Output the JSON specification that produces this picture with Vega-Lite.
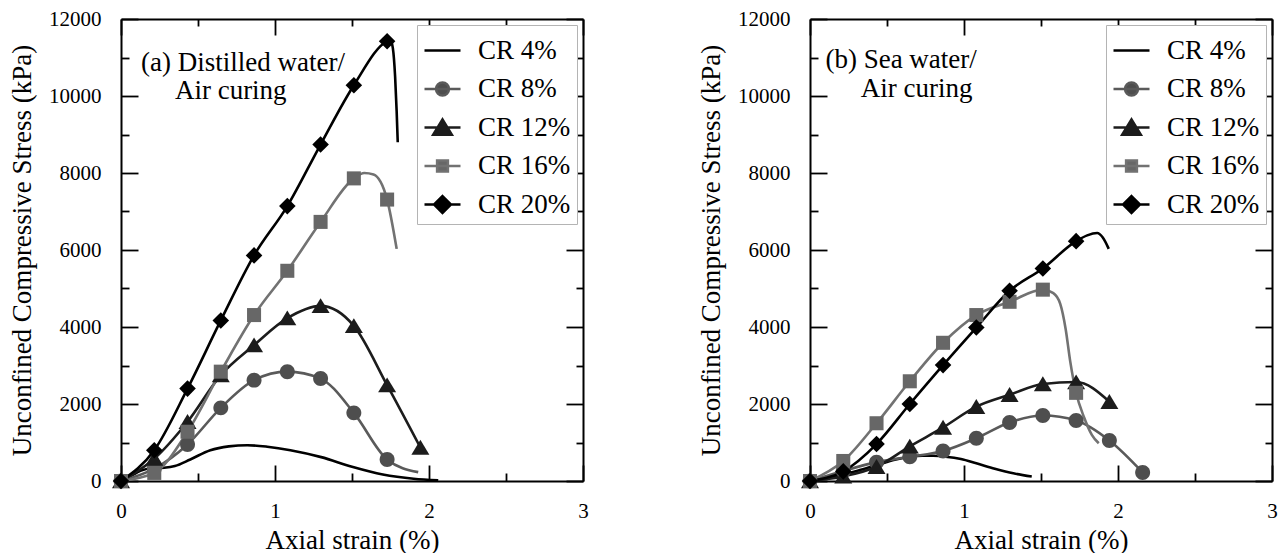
{
  "$schema": "https://vega.github.io/schema/vega-lite/v6.json",
  "padding": {"left": 8, "top": 8, "right": 2, "bottom": 2},
  "background": "white",
  "config": {
    "view": {"stroke": null},
    "font": "Liberation Serif",
    "axis": {
      "domainColor": "black", "domainWidth": 2, "tickColor": "black", "tickWidth": 1.8,
      "labelFont": "Liberation Serif", "labelFontSize": 21, "labelColor": "black", "labelFlush": false, "labelOverlap": false,
      "titleFont": "Liberation Serif", "titleFontSize": 27, "titleFontWeight": "normal", "titleColor": "black", "grid": false
    },
    "legend": {"title": null, "orient": "top-right", "offset": 6, "padding": 6, "rowPadding": 5.5, "symbolSize": 1296, "symbolStrokeWidth": 2.5,
               "labelFont": "Liberation Serif", "labelFontSize": 27, "labelColor": "black", "labelOffset": 16, "strokeColor": "#b4b4b4", "fillColor": "white", "symbolOpacity": 1}
  },
  "data": {"values": [
    {"p":"a","s":"CR 4%","x":0,"y":0,"m":0},{"p":"a","s":"CR 4%","x":0.06,"y":120,"m":0},{"p":"a","s":"CR 4%","x":0.13,"y":270,"m":0},{"p":"a","s":"CR 4%","x":0.2,"y":330,"m":0},{"p":"a","s":"CR 4%","x":0.28,"y":345,"m":0},{"p":"a","s":"CR 4%","x":0.35,"y":390,"m":0},{"p":"a","s":"CR 4%","x":0.45,"y":560,"m":0},{"p":"a","s":"CR 4%","x":0.58,"y":800,"m":0},{"p":"a","s":"CR 4%","x":0.7,"y":900,"m":0},{"p":"a","s":"CR 4%","x":0.82,"y":930,"m":0},{"p":"a","s":"CR 4%","x":0.95,"y":890,"m":0},{"p":"a","s":"CR 4%","x":1.1,"y":800,"m":0},{"p":"a","s":"CR 4%","x":1.3,"y":620,"m":0},{"p":"a","s":"CR 4%","x":1.5,"y":370,"m":0},{"p":"a","s":"CR 4%","x":1.7,"y":170,"m":0},{"p":"a","s":"CR 4%","x":1.9,"y":60,"m":0},{"p":"a","s":"CR 4%","x":2.06,"y":20,"m":0},
    {"p":"a","s":"CR 8%","x":0,"y":0,"m":1},{"p":"a","s":"CR 8%","x":0.216,"y":320,"m":1},{"p":"a","s":"CR 8%","x":0.432,"y":950,"m":1},{"p":"a","s":"CR 8%","x":0.648,"y":1900,"m":1},{"p":"a","s":"CR 8%","x":0.864,"y":2620,"m":1},{"p":"a","s":"CR 8%","x":1.08,"y":2840,"m":1},{"p":"a","s":"CR 8%","x":1.296,"y":2660,"m":1},{"p":"a","s":"CR 8%","x":1.512,"y":1770,"m":1},{"p":"a","s":"CR 8%","x":1.728,"y":560,"m":1},{"p":"a","s":"CR 8%","x":1.93,"y":230,"m":0},
    {"p":"a","s":"CR 12%","x":0,"y":0,"m":1},{"p":"a","s":"CR 12%","x":0.216,"y":580,"m":1},{"p":"a","s":"CR 12%","x":0.432,"y":1540,"m":1},{"p":"a","s":"CR 12%","x":0.648,"y":2750,"m":1},{"p":"a","s":"CR 12%","x":0.864,"y":3530,"m":1},{"p":"a","s":"CR 12%","x":1.08,"y":4230,"m":1},{"p":"a","s":"CR 12%","x":1.296,"y":4550,"m":1},{"p":"a","s":"CR 12%","x":1.512,"y":4030,"m":1},{"p":"a","s":"CR 12%","x":1.728,"y":2490,"m":1},{"p":"a","s":"CR 12%","x":1.944,"y":870,"m":1},
    {"p":"a","s":"CR 16%","x":0,"y":0,"m":1},{"p":"a","s":"CR 16%","x":0.216,"y":210,"m":1},{"p":"a","s":"CR 16%","x":0.432,"y":1280,"m":1},{"p":"a","s":"CR 16%","x":0.648,"y":2840,"m":1},{"p":"a","s":"CR 16%","x":0.864,"y":4310,"m":1},{"p":"a","s":"CR 16%","x":1.08,"y":5460,"m":1},{"p":"a","s":"CR 16%","x":1.296,"y":6730,"m":1},{"p":"a","s":"CR 16%","x":1.512,"y":7860,"m":1},{"p":"a","s":"CR 16%","x":1.58,"y":8000,"m":0},{"p":"a","s":"CR 16%","x":1.64,"y":7960,"m":0},{"p":"a","s":"CR 16%","x":1.728,"y":7310,"m":1},{"p":"a","s":"CR 16%","x":1.79,"y":6030,"m":0},
    {"p":"a","s":"CR 20%","x":0,"y":0,"m":1},{"p":"a","s":"CR 20%","x":0.216,"y":800,"m":1},{"p":"a","s":"CR 20%","x":0.432,"y":2400,"m":1},{"p":"a","s":"CR 20%","x":0.648,"y":4170,"m":1},{"p":"a","s":"CR 20%","x":0.864,"y":5860,"m":1},{"p":"a","s":"CR 20%","x":1.08,"y":7140,"m":1},{"p":"a","s":"CR 20%","x":1.296,"y":8740,"m":1},{"p":"a","s":"CR 20%","x":1.512,"y":10280,"m":1},{"p":"a","s":"CR 20%","x":1.728,"y":11420,"m":1},{"p":"a","s":"CR 20%","x":1.75,"y":11450,"m":0},{"p":"a","s":"CR 20%","x":1.765,"y":11250,"m":0},{"p":"a","s":"CR 20%","x":1.78,"y":10500,"m":0},{"p":"a","s":"CR 20%","x":1.79,"y":9600,"m":0},{"p":"a","s":"CR 20%","x":1.797,"y":8800,"m":0},
    {"p":"b","s":"CR 4%","x":0,"y":0,"m":0},{"p":"b","s":"CR 4%","x":0.1,"y":70,"m":0},{"p":"b","s":"CR 4%","x":0.22,"y":170,"m":0},{"p":"b","s":"CR 4%","x":0.33,"y":290,"m":0},{"p":"b","s":"CR 4%","x":0.44,"y":420,"m":0},{"p":"b","s":"CR 4%","x":0.55,"y":550,"m":0},{"p":"b","s":"CR 4%","x":0.65,"y":630,"m":0},{"p":"b","s":"CR 4%","x":0.73,"y":660,"m":0},{"p":"b","s":"CR 4%","x":0.8,"y":655,"m":0},{"p":"b","s":"CR 4%","x":0.88,"y":630,"m":0},{"p":"b","s":"CR 4%","x":0.98,"y":570,"m":0},{"p":"b","s":"CR 4%","x":1.08,"y":460,"m":0},{"p":"b","s":"CR 4%","x":1.2,"y":320,"m":0},{"p":"b","s":"CR 4%","x":1.32,"y":200,"m":0},{"p":"b","s":"CR 4%","x":1.44,"y":115,"m":0},
    {"p":"b","s":"CR 8%","x":0,"y":0,"m":1},{"p":"b","s":"CR 8%","x":0.216,"y":260,"m":1},{"p":"b","s":"CR 8%","x":0.432,"y":490,"m":1},{"p":"b","s":"CR 8%","x":0.648,"y":630,"m":1},{"p":"b","s":"CR 8%","x":0.864,"y":780,"m":1},{"p":"b","s":"CR 8%","x":1.08,"y":1110,"m":1},{"p":"b","s":"CR 8%","x":1.296,"y":1520,"m":1},{"p":"b","s":"CR 8%","x":1.512,"y":1700,"m":1},{"p":"b","s":"CR 8%","x":1.728,"y":1570,"m":1},{"p":"b","s":"CR 8%","x":1.944,"y":1050,"m":1},{"p":"b","s":"CR 8%","x":2.16,"y":220,"m":1},
    {"p":"b","s":"CR 12%","x":0,"y":0,"m":1},{"p":"b","s":"CR 12%","x":0.216,"y":120,"m":1},{"p":"b","s":"CR 12%","x":0.432,"y":370,"m":1},{"p":"b","s":"CR 12%","x":0.648,"y":900,"m":1},{"p":"b","s":"CR 12%","x":0.864,"y":1390,"m":1},{"p":"b","s":"CR 12%","x":1.08,"y":1930,"m":1},{"p":"b","s":"CR 12%","x":1.296,"y":2240,"m":1},{"p":"b","s":"CR 12%","x":1.512,"y":2520,"m":1},{"p":"b","s":"CR 12%","x":1.728,"y":2570,"m":1},{"p":"b","s":"CR 12%","x":1.944,"y":2060,"m":1},
    {"p":"b","s":"CR 16%","x":0,"y":0,"m":1},{"p":"b","s":"CR 16%","x":0.216,"y":520,"m":1},{"p":"b","s":"CR 16%","x":0.432,"y":1500,"m":1},{"p":"b","s":"CR 16%","x":0.648,"y":2590,"m":1},{"p":"b","s":"CR 16%","x":0.864,"y":3590,"m":1},{"p":"b","s":"CR 16%","x":1.08,"y":4310,"m":1},{"p":"b","s":"CR 16%","x":1.296,"y":4655,"m":1},{"p":"b","s":"CR 16%","x":1.512,"y":4970,"m":1},{"p":"b","s":"CR 16%","x":1.58,"y":4880,"m":0},{"p":"b","s":"CR 16%","x":1.625,"y":4600,"m":0},{"p":"b","s":"CR 16%","x":1.66,"y":3950,"m":0},{"p":"b","s":"CR 16%","x":1.69,"y":3100,"m":0},{"p":"b","s":"CR 16%","x":1.728,"y":2290,"m":1},{"p":"b","s":"CR 16%","x":1.78,"y":1650,"m":0},{"p":"b","s":"CR 16%","x":1.83,"y":1200,"m":0},{"p":"b","s":"CR 16%","x":1.875,"y":980,"m":0},
    {"p":"b","s":"CR 20%","x":0,"y":0,"m":1},{"p":"b","s":"CR 20%","x":0.216,"y":250,"m":1},{"p":"b","s":"CR 20%","x":0.432,"y":960,"m":1},{"p":"b","s":"CR 20%","x":0.648,"y":2000,"m":1},{"p":"b","s":"CR 20%","x":0.864,"y":3010,"m":1},{"p":"b","s":"CR 20%","x":1.08,"y":3985,"m":1},{"p":"b","s":"CR 20%","x":1.296,"y":4940,"m":1},{"p":"b","s":"CR 20%","x":1.512,"y":5520,"m":1},{"p":"b","s":"CR 20%","x":1.728,"y":6230,"m":1},{"p":"b","s":"CR 20%","x":1.8,"y":6380,"m":0},{"p":"b","s":"CR 20%","x":1.865,"y":6440,"m":0},{"p":"b","s":"CR 20%","x":1.9,"y":6330,"m":0},{"p":"b","s":"CR 20%","x":1.94,"y":6030,"m":0}
  ]},
  "spacing": 108,
  "resolve": {"scale": {"color": "independent", "fill": "independent", "stroke": "independent", "shape": "independent"}},
  "hconcat": [
    {
      "width": 462, "height": 462,
      "transform": [{"filter": "datum.p == 'a'"}],
      "resolve": {"axis": {"x": "independent", "y": "independent"}},
      "layer": [
        {
          "mark": {"type": "line", "interpolate": "monotone", "strokeWidth": 2.6},
          "encoding": {
            "x": {"field": "x", "type": "quantitative", "scale": {"domain": [0, 3], "nice": false, "zero": false},
                  "axis": {"orient": "bottom", "title": "Axial strain (%)", "values": [0, 1, 2, 3], "format": "d", "tickSize": -16, "labelPadding": 35, "titlePadding": 6}},
            "y": {"field": "y", "type": "quantitative", "scale": {"domain": [0, 12000], "nice": false},
                  "axis": {"orient": "left", "title": "Unconfined Compressive Stress (kPa)", "values": [0, 2000, 4000, 6000, 8000, 10000, 12000], "format": "d", "tickSize": -17, "labelPadding": 37, "titlePadding": 12}},
            "color": {"field": "s", "type": "nominal", "scale": {"domain": ["CR 20%", "CR 16%", "CR 12%", "CR 8%", "CR 4%"], "range": ["#000000", "#727272", "#1c1c1c", "#5a5a5a", "#000000"]}, "legend": null}
          }
        },
        {
          "transform": [{"filter": "datum.m == 1 && datum.s == 'CR 8%'"}],
          "mark": {"type": "point", "filled": true, "size": 324, "opacity": 1, "fill": "#4e4e4e", "shape": "M0.83,0A0.83,0.83 0 1,1 -0.83,0A0.83,0.83 0 1,1 0.83,0Z"},
          "encoding": {
            "x": {"field": "x", "type": "quantitative", "axis": {"orient": "bottom", "title": null, "labels": false, "domain": false, "values": [0.5, 1.5, 2.5], "tickSize": -8}},
            "y": {"field": "y", "type": "quantitative", "axis": {"orient": "left", "title": null, "labels": false, "domain": false, "values": [1000, 3000, 5000, 7000, 9000, 11000], "tickSize": -8}}
          }
        },
        {
          "transform": [{"filter": "datum.m == 1 && datum.s == 'CR 12%'"}],
          "mark": {"type": "point", "filled": true, "size": 324, "opacity": 1, "fill": "#1c1c1c", "shape": "M0,-0.85L1,0.8L-1,0.8Z"},
          "encoding": {
            "x": {"field": "x", "type": "quantitative", "axis": {"orient": "top", "title": null, "labels": false, "values": [0, 1, 2, 3], "tickSize": -16}},
            "y": {"field": "y", "type": "quantitative", "axis": {"orient": "right", "title": null, "labels": false, "values": [0, 2000, 4000, 6000, 8000, 10000, 12000], "tickSize": -17}}
          }
        },
        {
          "transform": [{"filter": "datum.m == 1 && datum.s == 'CR 16%'"}],
          "mark": {"type": "point", "filled": true, "size": 324, "opacity": 1, "fill": "#676767", "shape": "M-0.78,-0.78H0.78V0.78H-0.78Z"},
          "encoding": {
            "x": {"field": "x", "type": "quantitative", "axis": {"orient": "top", "title": null, "labels": false, "domain": false, "values": [0.5, 1.5, 2.5], "tickSize": -7}},
            "y": {"field": "y", "type": "quantitative", "axis": {"orient": "right", "title": null, "labels": false, "domain": false, "values": [1000, 3000, 5000, 7000, 9000, 11000], "tickSize": -7}}
          }
        },
        {
          "transform": [{"filter": "datum.m == 1 && datum.s == 'CR 20%'"}],
          "mark": {"type": "point", "filled": true, "size": 324, "opacity": 1, "fill": "#000000", "shape": "M0,-0.92L0.92,0L0,0.92L-0.92,0Z"},
          "encoding": {
            "x": {"field": "x", "type": "quantitative", "axis": null},
            "y": {"field": "y", "type": "quantitative", "axis": null}
          }
        },
        {
          "transform": [{"filter": "datum.m == 9"}],
          "mark": {"type": "point", "filled": true, "opacity": 1, "strokeWidth": 2.5},
          "encoding": {
            "x": {"field": "x", "type": "quantitative", "axis": null},
            "y": {"field": "y", "type": "quantitative", "axis": null},
            "fill": {"field": "s", "type": "nominal", "scale": {"domain": ["CR 4%", "CR 8%", "CR 12%", "CR 16%", "CR 20%"], "range": ["#000000", "#4e4e4e", "#1c1c1c", "#676767", "#000000"]}, "legend": {}},
            "stroke": {"field": "s", "type": "nominal", "scale": {"domain": ["CR 4%", "CR 8%", "CR 12%", "CR 16%", "CR 20%"], "range": ["#000000", "#5a5a5a", "#1c1c1c", "#727272", "#000000"]}, "legend": {}},
            "shape": {"field": "s", "type": "nominal", "scale": {"domain": ["CR 4%", "CR 8%", "CR 12%", "CR 16%", "CR 20%"], "range": ["M-1,0H1", "M-1,0H1M0.36,0A0.36,0.36 0 1,1 -0.36,0A0.36,0.36 0 1,1 0.36,0Z", "M-1,0H1M0,-0.45L0.52,0.4L-0.52,0.4Z", "M-1,0H1M-0.3,-0.3H0.3V0.3H-0.3Z", "M-1,0H1M0,-0.47L0.47,0L0,0.47L-0.47,0Z"]}, "legend": {}}
          }
        },
        {
          "data": {"values": [{"x": 0.13, "y": 10650, "t": "(a) Distilled water/"}, {"x": 0.35, "y": 9930, "t": "Air curing"}]},
          "mark": {"type": "text", "align": "left", "baseline": "alphabetic", "font": "Liberation Serif", "fontSize": 27, "color": "black"},
          "encoding": {
            "x": {"field": "x", "type": "quantitative", "axis": null},
            "y": {"field": "y", "type": "quantitative", "axis": null},
            "text": {"field": "t"}
          }
        }
      ]
    },
    {
      "width": 462, "height": 462,
      "transform": [{"filter": "datum.p == 'b'"}],
      "resolve": {"axis": {"x": "independent", "y": "independent"}},
      "layer": [
        {
          "mark": {"type": "line", "interpolate": "monotone", "strokeWidth": 2.6},
          "encoding": {
            "x": {"field": "x", "type": "quantitative", "scale": {"domain": [0, 3], "nice": false, "zero": false},
                  "axis": {"orient": "bottom", "title": "Axial strain (%)", "values": [0, 1, 2, 3], "format": "d", "tickSize": -16, "labelPadding": 35, "titlePadding": 6}},
            "y": {"field": "y", "type": "quantitative", "scale": {"domain": [0, 12000], "nice": false},
                  "axis": {"orient": "left", "title": "Unconfined Compressive Stress (kPa)", "values": [0, 2000, 4000, 6000, 8000, 10000, 12000], "format": "d", "tickSize": -17, "labelPadding": 37, "titlePadding": 12}},
            "color": {"field": "s", "type": "nominal", "scale": {"domain": ["CR 20%", "CR 16%", "CR 12%", "CR 8%", "CR 4%"], "range": ["#000000", "#727272", "#1c1c1c", "#5a5a5a", "#000000"]}, "legend": null}
          }
        },
        {
          "transform": [{"filter": "datum.m == 1 && datum.s == 'CR 8%'"}],
          "mark": {"type": "point", "filled": true, "size": 324, "opacity": 1, "fill": "#4e4e4e", "shape": "M0.83,0A0.83,0.83 0 1,1 -0.83,0A0.83,0.83 0 1,1 0.83,0Z"},
          "encoding": {
            "x": {"field": "x", "type": "quantitative", "axis": {"orient": "bottom", "title": null, "labels": false, "domain": false, "values": [0.5, 1.5, 2.5], "tickSize": -8}},
            "y": {"field": "y", "type": "quantitative", "axis": {"orient": "left", "title": null, "labels": false, "domain": false, "values": [1000, 3000, 5000, 7000, 9000, 11000], "tickSize": -8}}
          }
        },
        {
          "transform": [{"filter": "datum.m == 1 && datum.s == 'CR 12%'"}],
          "mark": {"type": "point", "filled": true, "size": 324, "opacity": 1, "fill": "#1c1c1c", "shape": "M0,-0.85L1,0.8L-1,0.8Z"},
          "encoding": {
            "x": {"field": "x", "type": "quantitative", "axis": {"orient": "top", "title": null, "labels": false, "values": [0, 1, 2, 3], "tickSize": -16}},
            "y": {"field": "y", "type": "quantitative", "axis": {"orient": "right", "title": null, "labels": false, "values": [0, 2000, 4000, 6000, 8000, 10000, 12000], "tickSize": -17}}
          }
        },
        {
          "transform": [{"filter": "datum.m == 1 && datum.s == 'CR 16%'"}],
          "mark": {"type": "point", "filled": true, "size": 324, "opacity": 1, "fill": "#676767", "shape": "M-0.78,-0.78H0.78V0.78H-0.78Z"},
          "encoding": {
            "x": {"field": "x", "type": "quantitative", "axis": {"orient": "top", "title": null, "labels": false, "domain": false, "values": [0.5, 1.5, 2.5], "tickSize": -7}},
            "y": {"field": "y", "type": "quantitative", "axis": {"orient": "right", "title": null, "labels": false, "domain": false, "values": [1000, 3000, 5000, 7000, 9000, 11000], "tickSize": -7}}
          }
        },
        {
          "transform": [{"filter": "datum.m == 1 && datum.s == 'CR 20%'"}],
          "mark": {"type": "point", "filled": true, "size": 324, "opacity": 1, "fill": "#000000", "shape": "M0,-0.92L0.92,0L0,0.92L-0.92,0Z"},
          "encoding": {
            "x": {"field": "x", "type": "quantitative", "axis": null},
            "y": {"field": "y", "type": "quantitative", "axis": null}
          }
        },
        {
          "transform": [{"filter": "datum.m == 9"}],
          "mark": {"type": "point", "filled": true, "opacity": 1, "strokeWidth": 2.5},
          "encoding": {
            "x": {"field": "x", "type": "quantitative", "axis": null},
            "y": {"field": "y", "type": "quantitative", "axis": null},
            "fill": {"field": "s", "type": "nominal", "scale": {"domain": ["CR 4%", "CR 8%", "CR 12%", "CR 16%", "CR 20%"], "range": ["#000000", "#4e4e4e", "#1c1c1c", "#676767", "#000000"]}, "legend": {}},
            "stroke": {"field": "s", "type": "nominal", "scale": {"domain": ["CR 4%", "CR 8%", "CR 12%", "CR 16%", "CR 20%"], "range": ["#000000", "#5a5a5a", "#1c1c1c", "#727272", "#000000"]}, "legend": {}},
            "shape": {"field": "s", "type": "nominal", "scale": {"domain": ["CR 4%", "CR 8%", "CR 12%", "CR 16%", "CR 20%"], "range": ["M-1,0H1", "M-1,0H1M0.36,0A0.36,0.36 0 1,1 -0.36,0A0.36,0.36 0 1,1 0.36,0Z", "M-1,0H1M0,-0.45L0.52,0.4L-0.52,0.4Z", "M-1,0H1M-0.3,-0.3H0.3V0.3H-0.3Z", "M-1,0H1M0,-0.47L0.47,0L0,0.47L-0.47,0Z"]}, "legend": {}}
          }
        },
        {
          "data": {"values": [{"x": 0.1, "y": 10720, "t": "(b) Sea water/"}, {"x": 0.33, "y": 9970, "t": "Air curing"}]},
          "mark": {"type": "text", "align": "left", "baseline": "alphabetic", "font": "Liberation Serif", "fontSize": 27, "color": "black"},
          "encoding": {
            "x": {"field": "x", "type": "quantitative", "axis": null},
            "y": {"field": "y", "type": "quantitative", "axis": null},
            "text": {"field": "t"}
          }
        }
      ]
    }
  ]
}
